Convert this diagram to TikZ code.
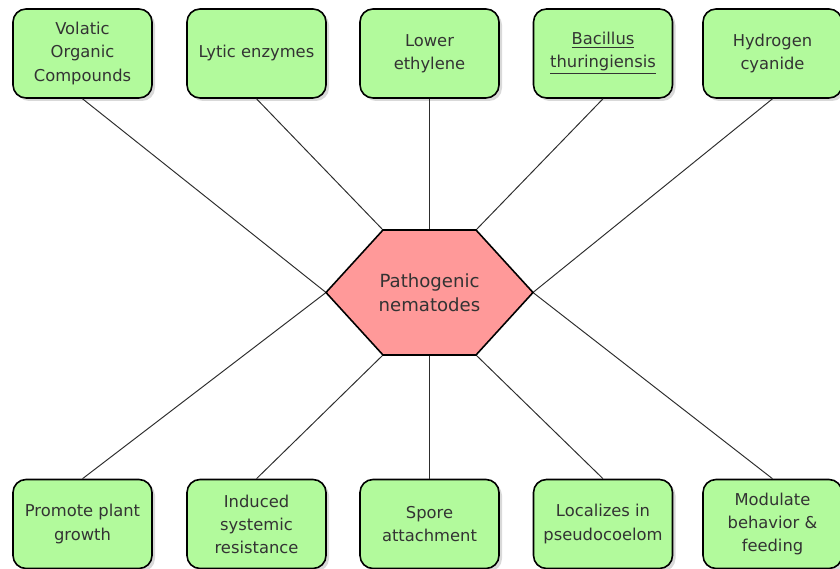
\documentclass[tikz,border=0pt]{standalone}
\usepackage{fontspec}
\setmainfont{DejaVu Sans}
\usetikzlibrary{shadows}

\definecolor{boxgreen}{RGB}{178,250,156}
\definecolor{hexpink}{RGB}{255,153,153}
\definecolor{txtgray}{RGB}{51,51,51}
\definecolor{linegray}{RGB}{45,45,45}

\tikzset{
  effect/.style={draw=black, line width=0.9pt, fill=boxgreen, rounded corners=0.26cm,
    minimum width=2.78cm, minimum height=1.78cm, inner sep=0pt, align=center,
    text=txtgray, font=\fontsize{9.3}{13.1}\selectfont,
    drop shadow={shadow xshift=0.06cm, shadow yshift=-0.06cm, opacity=0.3, fill=gray}},
  link/.style={draw=linegray, line width=0.55pt}
}

\begin{document}
\begin{tikzpicture}[scale=1]
\useasboundingbox (0,0) rectangle (16.8,11.38);

% ---------- hexagon corners ----------
\coordinate (hw) at (6.52,5.53);
\coordinate (hnw) at (7.66,6.78);
\coordinate (hn) at (8.59,6.78);
\coordinate (hne) at (9.52,6.78);
\coordinate (he) at (10.66,5.53);
\coordinate (hse) at (9.52,4.28);
\coordinate (hs) at (8.59,4.28);
\coordinate (hsw) at (7.66,4.28);

% ---------- top row ----------
\node[effect] (voc) at (1.65,10.31) {Volatic\\Organic\\Compounds};
\node[effect] (lytic) at (5.13,10.31) {Lytic enzymes};
\node[effect] (ethyl) at (8.59,10.31) {Lower\\ethylene};
\node[effect] (bacil) at (12.06,10.31) {\underline{Bacillus}\\\underline{thuringiensis}};
\node[effect] (hcn) at (15.45,10.31) {Hydrogen\\cyanide};

% ---------- bottom row ----------
\node[effect] (growth) at (1.65,0.9) {Promote plant\\growth};
\node[effect] (isr) at (5.13,0.9) {Induced\\systemic\\resistance};
\node[effect] (spore) at (8.59,0.9) {Spore\\attachment};
\node[effect] (pseudo) at (12.06,0.9) {Localizes in\\pseudocoelom};
\node[effect] (feed) at (15.45,0.9) {Modulate\\behavior \&\\feeding};

% ---------- links ----------
\draw[link] (voc.south) -- (hw);
\draw[link] (lytic.south) -- (hnw);
\draw[link] (ethyl.south) -- (hn);
\draw[link] (bacil.south) -- (hne);
\draw[link] (hcn.south) -- (he);
\draw[link] (growth.north) -- (hw);
\draw[link] (isr.north) -- (hsw);
\draw[link] (spore.north) -- (hs);
\draw[link] (pseudo.north) -- (hse);
\draw[link] (feed.north) -- (he);

% ---------- centre ----------
\draw[fill=hexpink, line width=0.9pt] (hw) -- (hnw) -- (hne) -- (he) -- (hse) -- (hsw) -- cycle;
\node[text=txtgray, align=center, font=\fontsize{10.3}{13.6}\selectfont] (patho) at (8.59,5.53) {Pathogenic\\nematodes};

\end{tikzpicture}
\end{document}
